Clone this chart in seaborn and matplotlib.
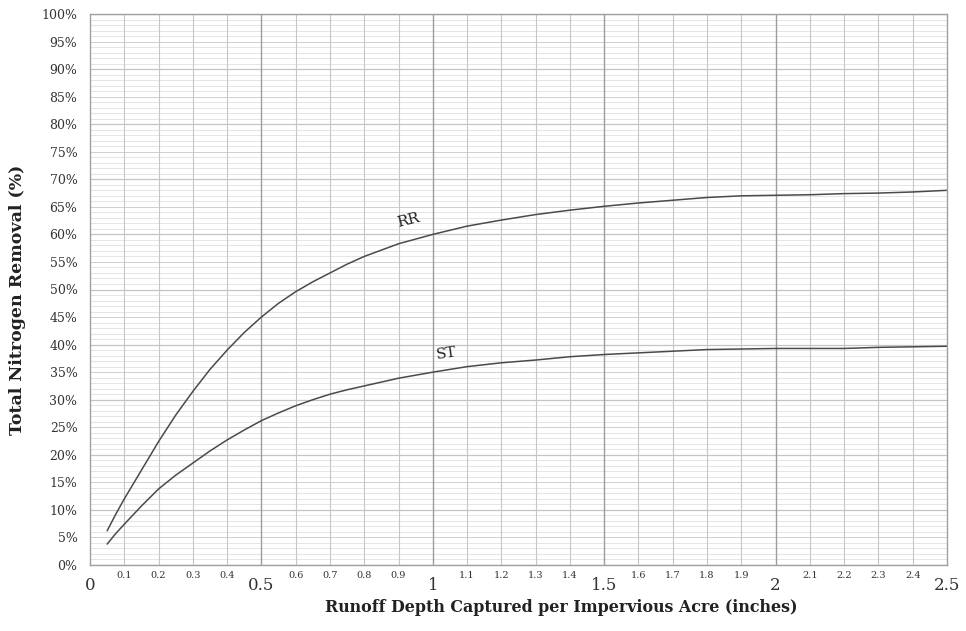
import matplotlib
matplotlib.use("Agg")
import matplotlib.pyplot as plt
import seaborn as sns
import pandas as pd

# runoff depth (inches) and removal (%)
depth = [0.05, 0.075, 0.1, 0.15, 0.2, 0.25, 0.3, 0.35, 0.4, 0.45, 0.5, 0.55, 0.6, 0.65, 0.7,
         0.75, 0.8, 0.9, 1.0, 1.1, 1.2, 1.3, 1.4, 1.5, 1.6, 1.7, 1.8, 1.9, 2.0, 2.1, 2.2,
         2.3, 2.4, 2.5]
rr = [6.2, 9.2, 12.0, 17.2, 22.4, 27.2, 31.5, 35.5, 39.0, 42.2, 45.0, 47.5, 49.6, 51.4, 53.0,
      54.6, 56.0, 58.3, 60.0, 61.5, 62.6, 63.6, 64.4, 65.1, 65.7, 66.2, 66.7, 67.0, 67.1,
      67.2, 67.4, 67.5, 67.7, 68.0]
st = [3.8, 5.7, 7.4, 10.7, 13.8, 16.3, 18.5, 20.7, 22.7, 24.5, 26.2, 27.6, 28.9, 30.0, 31.0,
      31.8, 32.5, 33.9, 35.0, 36.0, 36.7, 37.2, 37.8, 38.2, 38.5, 38.8, 39.1, 39.2, 39.3,
      39.3, 39.3, 39.5, 39.6, 39.7]

major_x = [0, 0.5, 1, 1.5, 2, 2.5]
major_x_labels = ["0", "0.5", "1", "1.5", "2", "2.5"]
minor_x = [i / 10 for i in range(1, 25) if i % 5 != 0]
minor_x_labels = [f"{v:.1f}" for v in minor_x]
y_ticks = list(range(0, 101, 5))
y_labels = [f"{v}%" for v in y_ticks]

df = pd.DataFrame({"depth": depth * 2, "removal": rr + st,
                   "type": ["RR"] * len(depth) + ["ST"] * len(depth)})

sns.set_style("white")
plt.rcParams["font.family"] = ["DejaVu Serif"]

fig = plt.figure(figsize=(9.66, 6.31), dpi=100)
ax = fig.add_axes([90 / 966, 66 / 631, 857 / 966, 551 / 631])

# grid first so curves sit on top
for v in range(0, 101):
    if v % 10 == 0:
        c, lw = "#c4c4c4", 0.9
    elif v % 5 == 0:
        c, lw = "#d0d0d0", 0.7
    else:
        c, lw = "#e0e0e0", 0.6
    ax.axhline(v, color=c, lw=lw, zorder=0)
for i in range(1, 25):
    v = i / 10
    ax.axvline(v, color="#9c9c9c" if i % 5 == 0 else "#c6c6c6",
               lw=1.0 if i % 5 == 0 else 0.8, zorder=0)

sns.lineplot(data=df, x="depth", y="removal", units="type", estimator=None,
             color="#4a4a4a", lw=1.1, ax=ax)

ax.set_xlim(0, 2.5)
ax.set_ylim(0, 100)

ax.set_xticks(major_x)
ax.set_xticklabels(major_x_labels, fontsize=12, color="#333333")
ax.set_xticks(minor_x, minor=True)
ax.set_xticklabels(minor_x_labels, minor=True, fontsize=7, color="#333333")
ax.tick_params(axis="x", which="major", length=5, width=0.8, color="#888888", pad=4)
ax.tick_params(axis="x", which="minor", length=0, pad=4)

ax.set_yticks(y_ticks)
ax.set_yticklabels(y_labels, fontsize=9, color="#333333")
ax.tick_params(axis="y", length=4, width=0.8, color="#999999", pad=5)

for s in ax.spines.values():
    s.set_color("#a0a0a0")
    s.set_linewidth(1.0)

ax.set_xlabel("")
ax.set_ylabel("")
fig.text(561 / 966, 1 - 608 / 631, "Runoff Depth Captured per Impervious Acre (inches)",
         ha="center", va="center", fontsize=11.4, fontweight="bold", color="#222222")
fig.text(18 / 966, 1 - 300 / 631, "Total Nitrogen Removal (%)", rotation=90,
         ha="center", va="center", fontsize=12.5, fontweight="bold", color="#222222")

ax.text(0.93, 62.6, "RR", rotation=14, fontsize=11, ha="center", va="center", color="#222222")
ax.text(1.04, 38.3, "ST", rotation=8, fontsize=11, ha="center", va="center", color="#222222")

fig.savefig("out.png", dpi=100, facecolor="white")
